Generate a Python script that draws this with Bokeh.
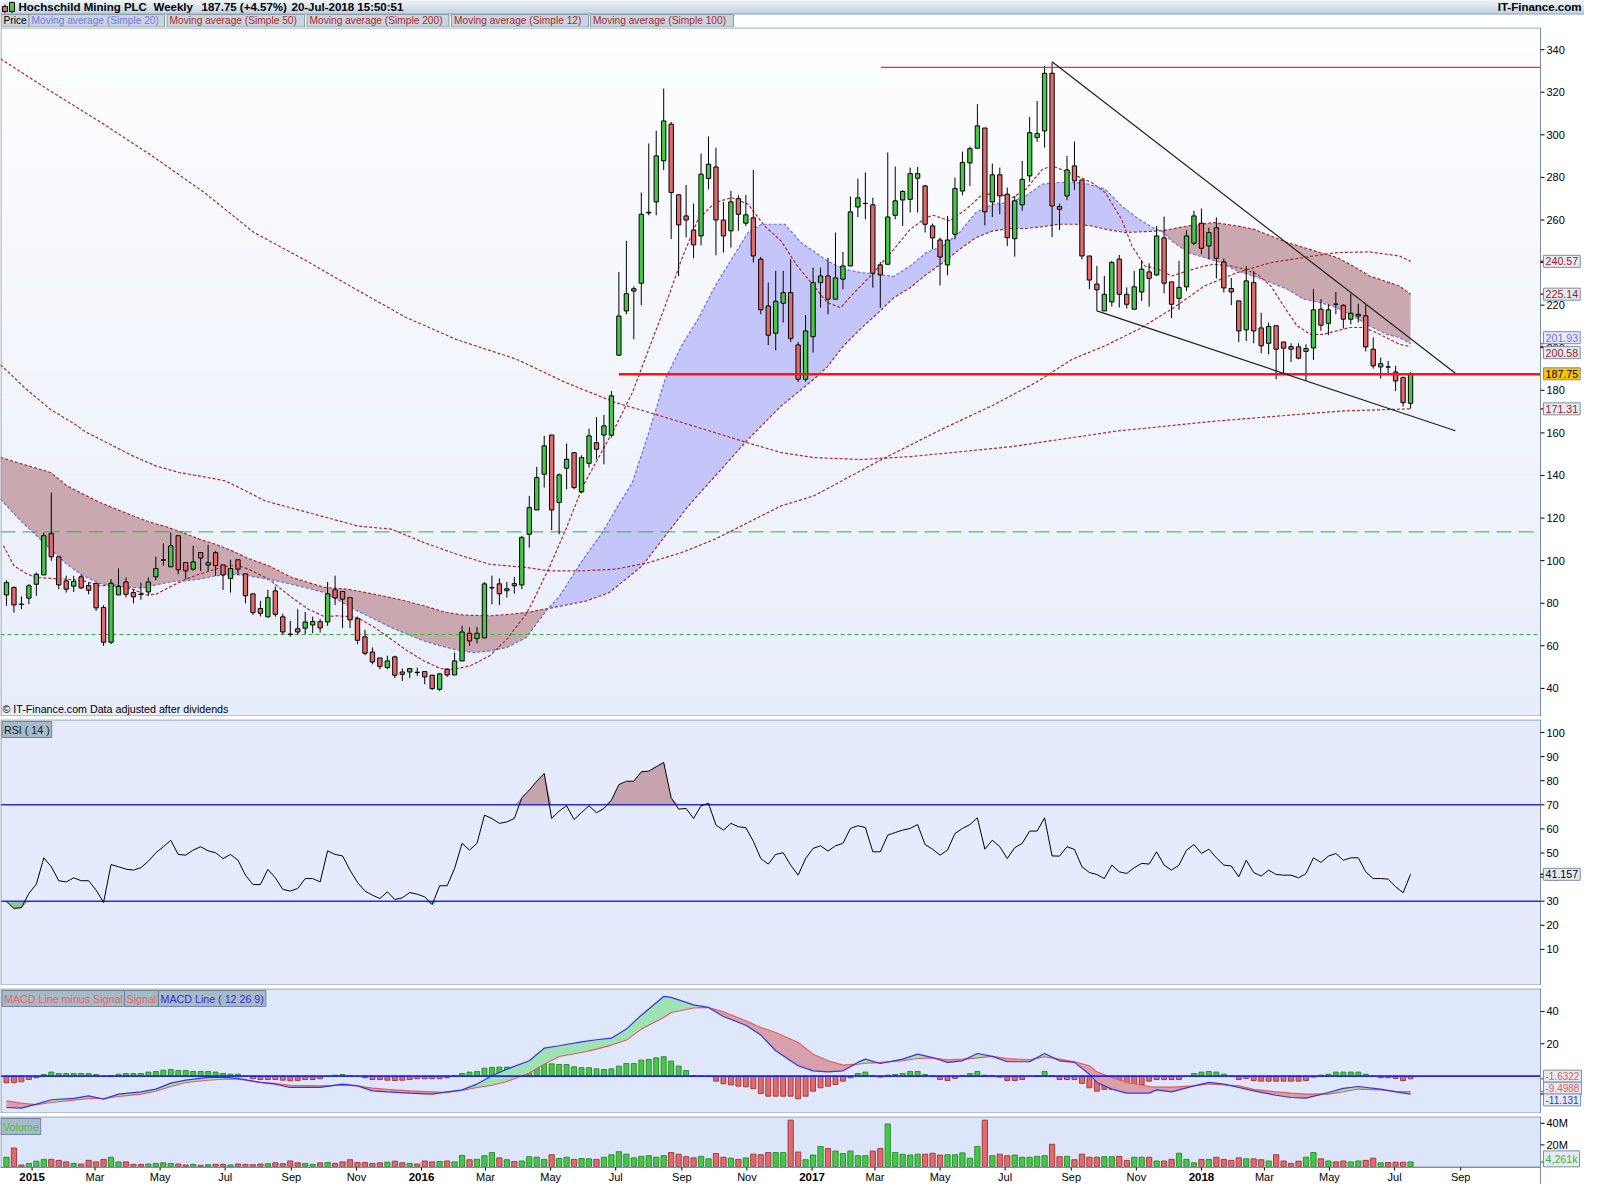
import numpy as np
import pandas as pd
from bokeh.plotting import figure
from bokeh.layouts import column
from bokeh.models import Range1d, Label
from bokeh.core.properties import value
from bokeh.embed import file_html
from bokeh.resources import INLINE

FONT = "Liberation Sans"
START = pd.Timestamp("2014-12-08")   # Monday of the first weekly candle

# ---------------- weekly OHLC ----------------
opens = [83.9,87.4,79.6,82.4,88.9,93.3,112.7,101.8,90.5,88.0,
92.4,88.3,89.3,78.0,61.7,83.9,90.0,85.0,84.3,85.3,
92.4,100.2,97.1,111.7,99.1,96.0,103.8,97.9,103.7,98.0,
91.6,100.4,93.8,84.4,77.5,73.6,85.8,73.6,65.5,68.0,
68.3,69.8,71.4,71.2,86.3,85.5,82.7,72.8,64.2,57.1,
54.3,49.8,54.8,47.7,47.7,47.6,47.9,46.2,39.6,49.0,
46.3,52.9,65.9,63.4,63.7,87.2,89.1,85.9,89.2,88.6,
112.4,123.8,140.6,159.0,127.3,143.4,150.7,132.3,145.7,155.4,
159.0,158.9,196.5,217.3,226.6,230.3,263.3,268.5,287.8,305.0,
271.8,261.9,255.3,252.5,279.5,284.9,260.0,254.9,270.0,258.5,
261.0,241.6,219.6,206.8,220.9,225.9,201.3,185.2,205.2,230.6,
233.7,222.8,232.2,238.4,266.1,267.7,267.1,238.9,239.2,262.2,
269.4,269.7,279.6,276.0,257.2,250.6,238.9,253.3,273.6,286.8,
293.7,303.2,268.5,281.2,272.1,251.2,267.1,280.7,298.7,301.8,
328.9,266.3,271.3,285.4,278.8,243.1,229.9,217.3,221.5,241.6,
225.1,218.1,226.2,235.6,234.2,251.6,230.9,223.2,228.6,249.1,
258.5,247.8,256.3,240.3,227.8,222.0,208.4,230.6,209.3,202.1,
210.3,202.7,200.5,200.4,198.3,199.9,218.1,211.5,220.5,219.9,
213.4,214.9,215.0,199.3,191.0,191.0,188.6,186.0,173.9]
highs = [90.8,87.9,83.2,89.0,94.4,113.2,132.0,101.8,92.9,92.9,
93.6,89.7,89.7,79.1,91.3,96.3,92.1,86.6,89.7,92.1,
101.9,108.1,113.2,111.7,99.1,107.0,103.8,107.4,104.6,98.0,
100.4,100.4,93.8,84.4,81.1,86.3,87.8,75.1,71.7,77.2,
75.9,73.7,72.5,90.0,92.9,85.5,82.7,73.7,67.5,59.2,
54.3,55.3,55.3,49.3,49.3,49.8,47.9,46.2,47.3,49.0,
56.8,69.4,68.6,68.9,90.0,92.9,91.6,90.0,92.4,111.6,
130.4,144.0,158.6,159.0,140.9,155.0,150.7,149.5,162.0,167.5,
168.5,179.7,235.6,250.2,228.8,272.9,295.9,301.9,321.7,306.1,
272.1,276.5,267.7,291.2,299.2,294.0,268.5,273.7,271.6,271.8,
283.5,242.7,230.6,236.1,236.1,241.6,202.7,215.4,237.6,237.6,
242.3,254.1,245.0,271.0,279.4,282.3,270.5,240.3,291.7,285.1,
274.0,284.6,284.9,276.5,258.3,251.7,261.9,279.9,292.1,294.5,
314.4,303.2,286.5,284.6,275.2,271.3,287.7,308.4,315.9,332.4,
333.9,267.7,290.1,296.8,278.8,243.1,238.4,233.7,240.8,243.6,
228.3,236.1,241.1,239.7,257.2,261.6,230.9,240.8,255.3,264.3,
265.4,256.4,261.2,241.9,232.8,222.0,238.4,236.1,216.4,211.8,
210.3,202.7,202.1,202.1,201.6,227.5,222.8,220.4,226.2,220.4,
225.4,220.7,220.4,204.8,195.4,193.8,191.5,186.5,188.6]
lows = [78.8,75.6,77.2,79.6,83.5,93.3,99.9,86.6,85.0,85.3,
86.6,84.2,76.4,60.0,60.8,83.9,82.7,80.0,81.6,83.5,
90.8,97.6,97.1,93.6,91.3,95.2,95.1,95.1,92.9,86.3,
85.0,93.3,80.0,74.4,73.8,73.3,73.7,65.4,64.3,65.3,
65.4,65.9,66.2,69.4,79.1,68.4,68.3,60.7,55.6,51.3,
49.0,49.0,44.8,43.5,44.8,45.9,42.0,39.3,38.8,45.4,
46.3,52.9,60.0,61.1,63.7,79.5,79.1,82.7,84.5,86.6,
106.1,123.8,134.3,114.3,112.4,133.5,133.5,131.6,143.7,147.6,
145.3,157.8,196.1,215.7,204.0,220.0,262.2,262.2,283.4,251.0,
233.7,251.8,242.0,248.1,274.4,243.4,244.7,247.0,254.9,257.2,
240.0,215.7,201.2,198.8,211.8,202.7,183.9,183.9,197.7,218.8,
215.7,222.8,227.5,238.4,261.4,260.3,228.2,218.8,239.2,260.3,
257.2,263.5,263.5,254.1,246.2,229.3,234.0,250.9,271.6,276.0,
293.7,257.5,261.4,262.7,247.8,242.8,264.3,277.9,296.7,294.0,
252.0,255.3,269.3,274.1,241.5,227.5,217.3,217.3,219.3,218.9,
218.4,218.1,222.0,219.3,233.7,225.6,213.9,217.8,226.7,248.2,
243.9,241.6,232.5,225.9,220.0,202.7,203.2,202.1,197.4,196.9,
185.2,188.0,193.3,194.6,184.4,194.3,207.9,205.9,215.7,209.0,
211.0,211.8,198.2,190.2,185.5,187.5,179.7,172.4,171.4]
closes = [89.7,79.2,79.4,88.2,93.6,111.7,101.8,88.6,86.6,90.2,
87.2,86.1,77.8,61.7,89.4,87.9,84.2,83.0,84.1,90.0,
96.3,100.4,107.0,95.7,95.2,99.4,101.2,99.1,97.6,93.3,
96.3,96.0,83.5,75.6,75.3,82.7,74.8,66.5,65.3,66.5,
71.2,71.4,68.4,84.4,82.5,81.9,72.2,62.6,56.5,52.4,
50.3,52.9,46.2,46.6,49.3,47.4,45.4,39.9,46.8,46.3,
52.9,66.5,62.3,65.9,89.1,87.3,84.4,86.8,88.2,110.9,
124.9,139.0,153.9,123.8,140.3,147.6,134.3,148.4,158.6,152.3,
163.3,177.4,214.9,225.4,227.7,262.7,263.6,290.1,306.5,272.9,
257.7,260.0,248.3,281.5,286.2,260.0,252.5,268.5,262.7,262.4,
243.1,217.8,205.9,221.8,225.9,204.3,185.2,207.9,230.6,233.7,
222.8,232.8,238.4,263.8,270.4,267.8,235.0,234.2,261.4,269.0,
273.4,281.8,281.8,258.0,251.6,242.6,250.6,274.8,287.0,293.5,
304.2,263.8,281.2,271.3,251.7,269.0,279.1,301.0,300.6,328.9,
266.6,265.0,283.5,278.4,243.1,231.8,227.2,225.1,240.0,225.1,
220.4,228.6,236.9,232.6,252.5,230.3,220.4,228.3,252.5,261.9,
246.7,254.1,242.0,228.1,226.2,207.9,231.4,207.9,200.9,210.0,
199.3,199.8,199.3,195.1,199.6,217.8,210.6,217.8,220.4,213.4,
216.2,215.7,200.4,191.5,192.5,190.9,184.4,174.2,187.75]

# weekly volume, millions of shares
volume_m = [8.6,17.1,1.4,2.9,4.9,6.6,6.6,5.7,4.3,2.9,
2.3,5.7,4.3,6.6,8.6,4.3,4.3,2.0,2.0,2.3,
2.9,3.4,2.9,2.3,1.4,2.0,1.1,1.7,2.0,2.0,
1.4,2.3,2.0,1.7,2.3,2.6,3.4,2.6,5.1,3.4,
2.9,2.0,3.4,3.7,2.9,4.3,6.3,3.7,3.7,2.9,
3.4,4.0,4.9,3.4,2.9,2.3,5.1,4.3,4.6,5.1,
4.3,10.3,6.3,6.6,10.0,12.9,8.0,6.3,4.6,5.1,
9.1,8.6,6.6,10.9,7.4,8.6,6.6,7.4,7.1,6.6,
8.6,10.9,13.7,11.4,8.0,9.4,10.0,8.6,10.0,12.9,
11.4,9.1,8.0,9.4,7.1,12.0,8.6,7.7,6.6,8.0,
11.4,10.9,12.9,12.9,12.9,42.9,13.4,6.3,10.6,18.6,
16.6,14.3,12.0,14.3,10.0,10.0,14.3,16.6,39.4,12.9,
11.4,10.6,11.4,11.4,12.3,10.6,10.9,10.9,12.6,7.7,
18.6,42.9,10.0,11.4,10.0,10.6,8.6,8.6,9.4,10.0,
20.6,9.1,9.4,6.3,11.4,8.6,8.6,9.1,9.1,9.4,
5.7,8.6,8.6,8.6,5.1,5.1,6.6,12.3,6.6,3.4,
6.6,6.6,8.6,6.6,5.7,8.0,7.1,7.1,6.3,5.1,
10.9,5.1,2.9,4.9,8.6,12.9,7.1,5.1,4.3,5.1,
4.3,5.1,5.7,7.7,3.4,3.7,4.0,4.0,4.261]

# RSI(14), one value per week
rsi14 = [29.8,27.0,27.3,33.2,37.1,48.0,44.3,38.5,38.0,39.7,
38.5,38.5,34.6,29.5,45.2,44.3,43.3,42.9,43.9,46.6,
50.1,52.6,55.3,49.4,49.1,51.2,52.6,50.9,50.1,47.7,
49.4,47.0,40.8,36.9,36.9,43.2,39.7,34.9,34.2,35.3,
39.4,39.4,38.0,50.9,49.4,48.8,42.9,37.8,34.2,32.5,
31.1,33.9,30.7,31.4,33.6,32.9,31.8,28.6,36.4,36.4,
43.6,54.0,51.2,54.0,65.7,64.3,62.3,62.9,64.3,72.9,
76.1,79.8,83.0,64.3,67.4,69.6,63.9,66.8,69.6,66.7,
68.5,71.9,78.4,79.8,79.8,83.7,84.0,85.8,87.6,72.9,
68.2,68.5,64.3,69.6,70.6,61.6,59.5,62.3,60.9,60.5,
54.9,47.7,45.4,49.4,50.1,45.0,40.8,47.7,51.9,53.0,
50.8,53.0,54.0,60.2,61.3,60.6,50.5,50.5,57.4,58.5,
59.5,60.2,61.8,53.5,51.6,49.1,51.2,58.1,60.2,61.8,
64.6,51.6,55.3,52.6,47.7,52.2,54.0,59.1,59.1,64.6,
48.8,48.7,52.6,51.5,44.3,41.9,41.1,39.4,45.0,42.2,
41.5,43.9,45.7,45.4,50.5,45.0,42.9,45.0,51.2,53.5,
49.8,51.6,48.0,45.0,44.6,40.1,47.0,41.9,40.4,42.9,
41.1,40.8,40.8,39.7,41.5,48.0,46.1,48.7,49.8,47.0,
48.0,48.0,42.2,39.4,39.4,39.2,36.0,33.5,41.157]

# MACD histogram (MACD line minus signal), one per week
macd_hist = [-4.1,-4.1,-3.5,-2.1,-1.0,1.0,2.5,1.6,1.6,1.6,
1.6,1.6,1.0,-0.2,0.4,1.2,1.6,1.6,1.6,2.5,
2.9,3.7,4.1,3.5,3.5,2.9,2.9,2.9,2.5,1.6,
1.2,1.2,-0.3,-1.6,-2.1,-2.1,-2.1,-2.5,-2.9,-2.7,
-2.1,-2.1,-1.6,-0.2,0.6,1.0,0.4,-0.2,-1.0,-2.1,
-2.1,-2.5,-2.7,-2.5,-2.1,-1.6,-1.6,-1.6,-1.6,-1.0,
0.4,1.6,2.5,2.9,4.9,5.4,5.6,5.6,5.2,6.2,
7.2,8.7,9.7,7.6,7.2,7.2,5.8,5.2,5.2,4.5,
4.1,4.5,6.2,7.8,7.8,9.9,10.3,11.3,12.0,9.3,
6.2,3.5,0.4,0.0,0.0,-3.1,-4.7,-5.4,-6.2,-6.6,
-7.8,-10.7,-12.4,-12.4,-12.4,-12.4,-14.0,-12.4,-9.3,-7.2,
-6.2,-5.2,-3.1,-1.0,1.6,2.5,0.4,-0.6,0.6,1.0,
1.6,2.9,2.9,1.0,0.0,-2.1,-2.7,-1.4,0.4,1.6,
2.9,0.6,0.4,-0.6,-2.7,-2.7,-2.1,0.0,0.4,2.9,
0.4,-2.1,-2.1,-2.1,-4.5,-7.2,-9.3,-8.2,-8.2,-6.2,
-7.2,-6.2,-5.2,-3.1,-2.1,-2.1,-2.1,-2.1,0.0,1.6,
2.5,2.9,2.5,1.2,0.0,-2.1,-1.4,-2.7,-3.1,-3.1,
-3.1,-3.1,-3.1,-3.1,-2.7,-0.6,0.6,1.2,2.5,2.5,
2.5,2.5,1.2,0.0,-1.0,-1.0,-1.4,-2.7,-1.6322]

# MACD line / signal, read at these week numbers
macd_wk = [0,2,4,6,9,11,13,15,18,20,22,24,27,29,31,34,36,38,42,45,
47,49,51,54,57,59,61,63,65,67,70,72,74,77,79,81,83,85,88,89,
92,94,96,99,101,103,106,108,110,112,114,115,117,120,122,124,126,128,130,132,
134,137,139,141,143,145,146,148,150,153,154,156,159,161,163,165,167,170,172,174,
177,179,181,184,186,188]
macd_line = [-19.4,-19.8,-17.3,-14.6,-13.8,-12.2,-14.2,-11.1,-9.7,-8.0,-4.3,-2.5,-0.8,-0.8,-1.4,-3.9,-4.9,-7.0,-7.0,-4.9,
-6.0,-9.1,-9.7,-10.5,-11.1,-9.7,-8.5,-4.9,0.2,4.3,9.5,17.3,18.8,21.2,22.5,23.5,29.1,37.7,49.3,48.7,
44.1,42.5,36.9,31.5,25.4,15.7,6.4,3.3,2.7,3.3,8.5,10.5,7.8,10.5,13.6,11.5,8.5,9.5,14.0,12.2,
8.9,8.9,14.0,9.5,8.5,1.2,-3.9,-8.0,-10.5,-10.5,-8.5,-9.7,-6.0,-3.9,-4.9,-7.0,-9.1,-11.8,-13.2,-13.6,
-10.1,-7.6,-6.4,-8.0,-9.7,-11.131]
signal_line = [-15.3,-16.7,-17.7,-16.3,-14.8,-13.8,-13.8,-12.6,-11.1,-9.3,-6.4,-3.9,-2.5,-1.9,-1.9,-3.9,-4.5,-5.6,-6.0,-5.6,
-6.0,-7.4,-8.2,-9.1,-9.7,-10.1,-8.9,-7.0,-5.6,-3.3,1.9,7.4,12.2,14.6,16.7,19.2,22.3,29.1,36.3,39.4,
42.1,42.5,39.8,34.2,30.1,27.0,20.8,13.6,9.5,6.8,7.4,8.0,8.5,9.5,10.9,11.3,10.1,10.5,11.3,12.2,
10.9,10.1,12.0,10.5,8.9,6.4,2.7,-0.8,-3.9,-6.4,-6.8,-6.8,-6.0,-4.9,-5.4,-6.0,-8.2,-9.7,-10.5,-11.1,
-11.1,-9.7,-8.0,-8.5,-9.3,-9.4988]

# moving averages, read at these week numbers
sma20_wk = [-0.8,1.9,3.6,5.9,8.1,10.3,12.5,14.7,16.9,18.2,20.0,22.2,24.0,25.8,28.0,30.2,32.4,35.1,38.2,42.6,
47.0,49.3,51.5,53.7,55.9,58.1,60.3,62.5,64.7,67.0,69.6,72.5,74.0,77.2,79.8,81.6,83.8,86.0,88.2,90.4,
92.6,94.9,97.1,99.3,101.1,104.2,106.4,107.7,109.9,112.1,114.4,116.6,118.8,121.0,123.2,125.4,127.6,129.8,132.1,134.3,
136.5,138.7,140.9,143.1,144.9,147.1,149.3,151.6,153.8,154.7,156.0,158.2,160.4,162.6,164.8,167.0,169.3,171.5,173.7,175.9,
178.1,180.3,182.5,184.8,186.5,188.0]
sma20 = [128.9,118.7,113.2,105.4,98.3,92.9,89.3,87.9,87.4,87.1,88.6,90.2,90.5,91.3,92.9,93.6,92.9,91.3,88.9,85.0,
76.4,72.5,68.6,65.4,62.3,60.0,58.1,56.8,57.6,59.2,63.9,77.5,83.0,100.6,113.2,124.1,136.6,160.1,185.2,200.9,
213.4,229.0,241.6,254.1,258.0,258.0,249.4,246.2,240.8,236.9,235.3,234.5,233.4,238.4,244.7,247.8,254.1,263.5,267.4,268.2,
271.3,276.8,277.6,277.6,276.8,274.5,266.6,260.4,255.7,254.9,250.2,244.7,242.4,240.0,236.1,233.7,230.6,227.5,222.8,221.2,
218.9,215.0,210.3,206.3,204.8,201.93]
sma50_wk = [-0.8,1.4,3.6,5.9,8.1,10.3,12.5,14.7,16.9,19.1,21.4,23.6,25.8,28.0,30.2,32.4,35.1,38.2,42.6,45.7,
49.3,52.8,55.9,58.6,61.2,64.7,67.4,69.6,72.5,77.6,80.7,85.1,88.2,91.3,94.9,99.3,103.7,108.1,109.9,112.1,
114.4,116.6,118.8,121.0,123.2,125.4,127.6,129.8,132.1,134.3,136.5,138.7,140.9,143.1,145.3,147.1,149.8,154.7,158.2,161.7,
164.8,167.0,171.5,175.9,178.1,180.3,182.5,186.5,188.0]
sma50 = [148.5,146.1,143.8,141.4,135.1,131.2,127.3,124.2,121.1,118.2,115.9,113.2,110.1,107.7,104.6,101.0,97.6,92.1,87.4,86.6,
84.2,81.6,78.8,75.9,74.4,74.1,74.8,75.6,77.5,81.0,85.0,97.5,111.6,125.7,139.8,157.0,172.6,185.2,191.0,201.0,
209.0,216.0,223.5,228.2,234.5,240.0,246.2,251.7,254.9,256.0,256.0,256.9,258.0,258.0,257.2,255.7,254.1,254.9,257.2,258.8,
257.2,255.7,249.4,244.7,242.4,238.4,233.7,229.0,225.14]
sma12_wk = [-0.4,1.0,2.8,4.1,6.3,8.1,10.3,12.5,14.7,16.9,18.7,20.0,22.2,24.0,25.8,28.0,29.8,31.1,32.4,35.1,
38.2,40.4,42.6,44.4,47.0,49.3,51.5,53.7,55.9,58.1,59.9,62.1,64.7,67.0,69.6,70.5,72.7,74.9,77.2,79.4,
81.6,83.8,86.0,88.2,90.4,92.6,94.9,97.1,99.3,101.5,103.7,105.9,108.1,109.9,111.7,113.5,115.7,118.8,121.0,123.2,
124.1,126.3,128.5,130.7,133.0,134.7,136.5,138.7,140.0,142.3,145.3,147.1,149.3,150.7,152.4,154.2,156.0,158.2,160.4,161.7,
164.0,165.7,167.5,169.3,171.0,172.8,174.6,176.3,178.1,179.9,181.7,183.4,185.2,186.5,188.0]
sma12 = [107.0,97.6,93.6,92.1,91.6,91.3,90.5,88.2,88.5,86.6,83.9,84.2,88.2,91.3,93.6,96.0,97.6,97.6,96.0,91.3,
82.7,77.2,73.7,74.1,73.3,68.6,63.1,57.6,52.9,49.3,49.0,50.6,55.3,63.1,75.0,81.0,97.0,114.7,135.1,149.2,
163.3,178.9,199.3,219.6,241.6,260.4,268.2,270.5,267.4,257.2,250.2,238.4,229.0,221.2,218.8,225.9,233.7,246.2,255.6,261.2,
262.2,259.6,265.0,272.1,272.1,270.5,274.4,283.8,285.4,282.3,277.6,272.9,260.4,247.8,238.4,236.9,233.7,236.1,238.4,239.2,
238.4,236.9,234.5,229.0,219.6,210.3,206.3,206.3,207.9,209.5,209.5,207.1,204.0,201.6,200.58]
sma100_wk = [-0.8,2.5,5.9,9.2,10.7,13.4,16.9,20.0,23.1,25.8,29.3,32.0,34.6,40.4,47.0,51.5,55.9,60.3,64.7,69.6,
72.7,77.2,81.6,86.0,90.4,94.9,99.3,103.7,108.1,116.9,125.4,132.1,137.8,142.7,147.1,151.6,156.0,160.4,164.8,169.3,
173.7,178.1,182.5,186.5,188.0]
sma100 = [192.0,181.0,171.0,164.0,160.2,155.5,149.2,144.5,141.4,139.8,137.5,132.8,128.1,122.6,116.3,114.8,108.5,103.0,98.3,96.8,
95.2,95.2,96.0,99.1,103.8,110.1,117.9,125.7,130.4,147.0,162.0,173.0,183.6,194.6,200.9,208.7,218.1,229.0,235.3,240.0,
242.4,244.7,245.0,243.1,240.57]
sma200_wk = [-0.8,6.0,12.8,19.5,26.3,33.1,39.9,46.6,53.4,60.2,68.3,74.9,81.6,86.9,94.9,99.2,103.8,108.1,114.4,121.2,
134.7,148.3,161.8,175.5,179.0,188.0]
sma200 = [335.7,320.3,305.5,290.1,273.4,254.2,241.3,227.8,214.4,203.9,194.6,183.6,174.2,168.7,160.1,155.4,150.7,148.4,147.5,148.9,
153.6,160.7,165.5,169.4,170.3,171.31]
ma_cross_wk = [-0.8, 72.5, 154.7, 188.0]      # where SMA20 and SMA50 meet

# drawn lines (levels and trend lines)
green_dash_level = 113.5
green_dot_level = 65.3
resist_level, resist_from_wk = 331.7, 117.1
support_level, support_from_wk = 187.6, 82.0
trend_hi_wk, trend_hi_val = [140.0, 194.0], [334.3, 188.0]
trend_lo_wk, trend_lo_val = [146.0, 194.0], [217.3, 161.0]

price_ticks = list(range(40, 341, 20))
rsi_ticks = list(range(10, 101, 10))
macd_ticks = [20, 40]
vol_ticks, vol_tick_labels = [20, 40], ["20M", "40M"]

# ---------------- layout constants ----------------
W = 1584          # figure width (page has 8px margin)
FW = 1540         # plot-area width; the rest is the right-hand scale
XSTART, XEND = -0.8 * 7, 205.4 * 7
DXPX = (XEND - XSTART) / FW
XFULL = XEND + (W - FW) * DXPX
xr = Range1d(XSTART, XFULL)


def fx(px):
    return XSTART + px * DXPX


GREEN, GREEN_L = "#46C846", "#2E8F2E"
RED, RED_L = "#E26A6A", "#A63C3C"
MA_RED = "#B3262A"
BOX_BG, BOX_BD = "#E5EBF2", "#7C8EA0"
EDGE = "#8797A7"
AXIS = "#7B8FA3"

n = len(closes)
xs = np.arange(n) * 7.0
o = np.array(opens); h = np.array(highs); lo = np.array(lows); c = np.array(closes)
up = c >= o


def panel(height, y0, y1, top=0):
    p = figure(width=W, height=height, x_range=xr, y_range=Range1d(y0, y1),
               output_backend="svg", toolbar_location=None, tools="",
               x_axis_location=None, y_axis_location=None,
               min_border_left=0, min_border_right=0, min_border_top=top, min_border_bottom=0)
    p.grid.visible = False
    p.background_fill_color = "white"
    p.border_fill_color = "white"
    p.outline_line_color = None
    return p


def hline(p, yv, x0=XSTART, **kw):
    p.line([x0, XEND], [yv, yv], **kw)


def right_scale(p, y0, y1, ticks, labels=None, base=None):
    upp = (y1 - y0) / p.height
    b = y0 if base is None else base
    p.line([fx(0.5), fx(0.5)], [b, y1], line_color=EDGE, line_width=1)
    hline(p, y1 - 0.5 * upp, line_color=EDGE, line_width=1)
    hline(p, b + 0.5 * upp, line_color=EDGE, line_width=1)
    p.line([XEND, XEND], [y0, y1], line_color=AXIS, line_width=1)
    labels = labels or [str(t) for t in ticks]
    p.segment([XEND] * len(ticks), ticks, [XEND + 4 * DXPX] * len(ticks), ticks, line_color="black")
    p.text(x=[XEND + 6 * DXPX] * len(ticks), y=ticks, text=labels, text_font=value(FONT),
           text_font_size="11px", text_baseline="middle", text_align="left", text_color="black")


def side_box(p, y, text, color, bg=BOX_BG, size="10.7px", mark=None):
    if mark is not None:
        p.segment([XEND], [mark], [XEND + 3 * DXPX], [mark], line_color=color, line_width=1.5)
    p.add_layout(Label(x=XEND, y=y, x_offset=3, text=text, text_color=color, text_font=FONT,
                       text_font_size=size, text_align="left", text_baseline="middle",
                       background_fill_color=bg, border_line_color=BOX_BD, padding=2))


def tag_box(p, px, y, text, color, bg="#A8BAC7"):
    p.add_layout(Label(x=fx(px), y=y, y_offset=-2, text=text, text_color=color, text_font=FONT,
                       text_font_size="10.7px", text_align="left", text_baseline="top",
                       background_fill_color=bg, border_line_color="#71869A", padding=2))


# ---------------- header ----------------
hdr = figure(width=W, height=27, x_range=Range1d(0, W), y_range=Range1d(0, 27),
             output_backend="svg", toolbar_location=None, tools="",
             x_axis_location=None, y_axis_location=None, min_border=0)
hdr.grid.visible = False
hdr.outline_line_color = None
hdr.background_fill_color = "white"
hdr.border_fill_color = "white"
bar_cols = ["#C2D2DE", "#CCDAE4", "#D6E2EA", "#E0E9EF", "#E8EFF3"]
bar_edges = np.linspace(13.5, 27, len(bar_cols) + 1)
hdr.quad(left=0, right=W, bottom=bar_edges[:-1], top=bar_edges[1:], fill_color=bar_cols, line_color=bar_cols)
hdr.line([0, W], [13.5, 13.5], line_color="#9AAAB8", line_width=1)
hdr.segment([4.5, 11.5], [14.5, 14.5], [4.5, 11.5], [23.0, 26.0], line_color="black")
hdr.quad(left=[2, 9], right=[7, 14], bottom=[16, 16], top=[21, 25], fill_color=[RED, GREEN], line_color="black")
tx = [18, 153, 201, 291]
tt = ["Hochschild Mining PLC", "Weekly", "187.75 (+4.57%)", "20-Jul-2018 15:50:51"]
hdr.text(x=tx, y=[20.3] * 4, text=tt, text_font=value(FONT), text_font_size="11.5px",
         text_font_style="bold", text_baseline="middle", text_color="black")
hdr.text(x=[W - 3], y=[20.3], text=["IT-Finance.com"], text_font=value(FONT), text_font_size="11.5px",
         text_font_style="bold", text_baseline="middle", text_align="right", text_color="black")
leg_left = [0.5, 28.5, 166.5, 306.5, 451.0, 590.0]
leg_right = [28.5, 164.0, 304.0, 448.5, 588.0, 733.0]
leg_text = ["Price", "Moving average (Simple 20)", "Moving average (Simple 50)",
            "Moving average (Simple 200)", "Moving average (Simple 12)", "Moving average (Simple 100)"]
leg_col = ["black", "#7676F2", MA_RED, MA_RED, MA_RED, MA_RED]
hdr.quad(left=leg_left, right=leg_right, bottom=0.5, top=13.0, fill_color="#C9D5DE", line_color="#8C9BA8")
hdr.text(x=[a + 2.5 for a in leg_left], y=[6.8] * 6, text=leg_text, text_font=value(FONT),
         text_font_size="10.2px", text_baseline="middle", text_color=leg_col)

# ---------------- price panel ----------------
P_Y0, P_Y1 = 26.8, 350.4
pp = panel(689, P_Y0, P_Y1, top=0)
nb = 60
edges = np.linspace(P_Y0, P_Y1, nb + 1)
grad = []
for k in range(nb):
    t = (k + 0.5) / nb
    grad.append("#%02x%02x%02x" % (int(round(231 + 23 * t)), int(round(237 + 17 * t)), int(round(250 + 5 * t))))
pp.quad(left=XSTART - 50, right=XEND, bottom=edges[:-1], top=edges[1:], fill_color=grad, line_color=grad)

fill_cols = ["#C9A8AF", "#C4C6F9", "#C9A8AF"]
for k in range(3):
    a, b = ma_cross_wk[k] - 1e-6, ma_cross_wk[k + 1] + 1e-6
    p20 = [(i * 7, v) for i, v in zip(sma20_wk, sma20) if a <= i <= b]
    p50 = [(i * 7, v) for i, v in zip(sma50_wk, sma50) if a <= i <= b]
    pts = p20 + p50[::-1]
    pp.patch([q[0] for q in pts], [q[1] for q in pts], fill_color=fill_cols[k], line_color=None)

for wk, vals in ((sma200_wk, sma200), (sma100_wk, sma100), (sma50_wk, sma50), (sma12_wk, sma12)):
    pp.line(np.array(wk) * 7, vals, line_color=MA_RED, line_dash="3 2", line_width=1.2)
pp.line(np.array(sma20_wk) * 7, sma20, line_color="#6C6CF0", line_dash="3 2", line_width=1.2)

hline(pp, green_dash_level, line_color="#3AAA3A", line_dash="15 7", line_width=1)
hline(pp, green_dot_level, line_color="#2DB52D", line_dash="4 3", line_width=1)

pp.segment(xs, lo, xs, h, line_color="black", line_width=1)
pp.vbar(x=xs, width=0.58 * 7, top=np.maximum(o, c), bottom=np.minimum(o, c),
        fill_color=[GREEN if u else RED for u in up], line_color="black", line_width=1)

hline(pp, resist_level, x0=resist_from_wk * 7, line_color="#E83030", line_width=1.2)
hline(pp, support_level, x0=support_from_wk * 7, line_color="#FF1414", line_width=2.5)
pp.line(np.array(trend_hi_wk) * 7, trend_hi_val, line_color="#202020", line_width=1.2)
pp.line(np.array(trend_lo_wk) * 7, trend_lo_val, line_color="#202020", line_width=1.2)

pp.text(x=[fx(2)], y=[30.2], text=["\u00a9 IT-Finance.com  Data adjusted after dividends"],
        text_font=value(FONT), text_font_size="10.7px", text_baseline="middle", text_color="black")
right_scale(pp, P_Y0, P_Y1, price_ticks)
side_box(pp, 240.57, "240.57", "#A01818", mark=240.57)
side_box(pp, 225.14, "225.14", "#A01818", mark=225.14)
side_box(pp, 204.7, "201.93", "#6E6EF0", mark=201.93)
side_box(pp, 197.7, "200.58", "#A01818", mark=200.58)
side_box(pp, 187.75, "187.75", "black", bg="#F7C600")
side_box(pp, 171.31, "171.31", "#A01818", mark=171.31)

# ---------------- RSI panel ----------------
R_Y0, R_Y1 = -4.98, 105.4
pr = panel(269, R_Y0, R_Y1, top=3)
pr.quad(left=XSTART - 50, right=XEND, bottom=R_Y0 - 50, top=R_Y1 + 50, fill_color="#E5EBFC", line_color=None)
r = np.array(rsi14)
pr.varea(x=xs, y1=70, y2=np.maximum(r, 70), fill_color="#C6A3AD")
pr.varea(x=xs, y1=np.minimum(r, 30), y2=30, fill_color="#8FC79B")
hline(pr, 70, line_color="#2A2AE0", line_width=1.6)
hline(pr, 30, line_color="#2A2AE0", line_width=1.6)
pr.line(xs, r, line_color="black", line_width=1)
right_scale(pr, R_Y0, R_Y1, rsi_ticks)
tag_box(pr, 1.5, R_Y1, "RSI ( 14 )", "#10202E")
side_box(pr, 41.157, "41.157", "black", mark=41.157)

# ---------------- MACD panel ----------------
M_Y0, M_Y1 = -23.1, 54.2
pm = panel(128, M_Y0, M_Y1, top=3)
pm.quad(left=XSTART - 50, right=XEND, bottom=M_Y0 - 50, top=M_Y1 + 50, fill_color="#DFE7FB", line_color=None)
mh = np.array(macd_hist)
pm.vbar(x=xs, width=0.66 * 7, top=np.maximum(mh, 0), bottom=np.minimum(mh, 0),
        fill_color=[GREEN if v >= 0 else RED for v in mh],
        line_color=[GREEN_L if v >= 0 else RED_L for v in mh], line_width=1)
mx = np.array(macd_wk) * 7.0
ml = np.array(macd_line); sl = np.array(signal_line)
pm.varea(x=mx, y1=sl, y2=np.maximum(ml, sl), fill_color="#9FE2B4")
pm.varea(x=mx, y1=np.minimum(ml, sl), y2=sl, fill_color="#D9A0AC")
pm.line(mx, sl, line_color="#E85A5A", line_width=1.1)
pm.line(mx, ml, line_color="#3434E2", line_width=1.2)
hline(pm, 0, line_color="#2323E0", line_width=1.6)
right_scale(pm, M_Y0, M_Y1, macd_ticks)
tag_box(pm, 1.5, M_Y1, "MACD Line minus Signal", "#E86464")
tag_box(pm, 124.0, M_Y1, "Signal", "#E86464")
tag_box(pm, 158.0, M_Y1, "MACD Line ( 12 26 9)", "#3030D8")
side_box(pm, 0.0, "-1.6322", "#E05A5A", size="10px", mark=-1.6322)
side_box(pm, -7.5, "-9.4988", "#E05A5A", size="10px", mark=-9.4988)
side_box(pm, -14.7, "-11.131", "#3030D8", size="10px", mark=-11.131)

# ---------------- Volume panel (with the date scale underneath) ----------------
V_TOP, V_BASE = 46.3, -0.9
VPP = (V_TOP - V_BASE) / 51.0
V_Y0 = V_BASE - 17 * VPP
pv = panel(71, V_Y0, V_TOP, top=3)
pv.quad(left=XSTART - 50, right=XEND, bottom=V_BASE, top=V_TOP + 50, fill_color="#DCE5F9", line_color=None)
pv.vbar(x=xs, width=0.7 * 7, top=volume_m, bottom=0,
        fill_color=[GREEN if u else RED for u in up],
        line_color=[GREEN_L if u else RED_L for u in up], line_width=1)
right_scale(pv, V_Y0, V_TOP, vol_ticks, vol_tick_labels, base=V_BASE)
hline(pv, V_BASE, line_color=AXIS, line_width=1)
tag_box(pv, 0.5, V_TOP, "Volume", "#4CC24C")
side_box(pv, 7.1, "4,261k", "#3CB43C", mark=4.261)

tick_days, month_days, month_lab, year_days, year_lab = [], [], [], [], []
for yr in range(2015, 2019):
    for m in (1, 3, 5, 7, 9, 11):
        d = pd.Timestamp(year=yr, month=m, day=1)
        if d > pd.Timestamp("2018-09-01"):
            continue
        dd = float((d - START).days)
        tick_days.append(dd)
        if m == 1:
            year_days.append(dd); year_lab.append(str(yr))
        else:
            month_days.append(dd); month_lab.append(d.strftime("%b"))
pv.segment(tick_days, [V_BASE] * len(tick_days), tick_days, [V_BASE - 3 * VPP] * len(tick_days), line_color="black")
pv.text(x=month_days, y=[V_BASE - 9.5 * VPP] * len(month_days), text=month_lab, text_font=value(FONT),
        text_font_size="11px", text_align="center", text_baseline="middle", text_color="black")
pv.text(x=year_days, y=[V_BASE - 9.5 * VPP] * len(year_days), text=year_lab, text_font=value(FONT),
        text_font_size="11.5px", text_font_style="bold", text_align="center", text_baseline="middle",
        text_color="black")

layout = column(hdr, pp, pr, pm, pv)
open("out.html", "w").write(file_html(layout, INLINE, "Hochschild Mining PLC - Weekly"))
